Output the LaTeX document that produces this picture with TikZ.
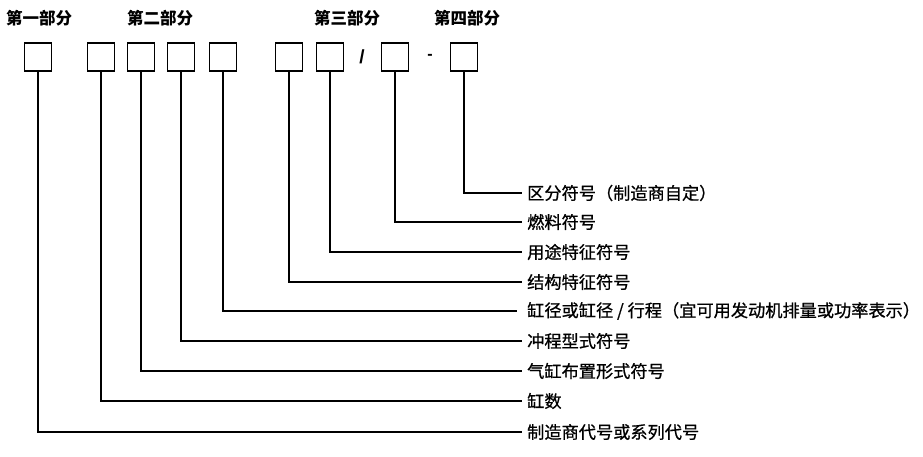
\documentclass[tikz,border=0pt]{standalone}
\usepackage{fontspec}
\setmainfont{Liberation Sans}
\newfontfamily\cjk{Noto Sans CJK SC}
\newfontfamily\cjkfb[FakeBold=0.8]{Noto Sans CJK SC}
\begin{document}
\begin{tikzpicture}[x=1pt,y=-1pt,
  codebox/.style={draw,line width=1.3pt,minimum width=27pt,minimum height=28pt,inner sep=0pt},
  head/.style={font=\cjk\bfseries\fontsize{16.5}{16.5}\selectfont,inner sep=0pt},
  lab/.style={anchor=west,font=\cjkfb\fontsize{17.2}{17.2}\selectfont,inner xsep=5pt,inner ysep=0pt},
  conn/.style={line width=1.3pt}]
\useasboundingbox (0,0) rectangle (923,456);
% headers
\node[head] (h1) at (39,18) {第一部分};
\node[head] (h2) at (160,18) {第二部分};
\node[head] (h3) at (347,18) {第三部分};
\node[head] (h4) at (467,18) {第四部分};
% boxes
\node[codebox] (b1) at (38,57) {};
\node[codebox] (b2) at (101,57) {};
\node[codebox] (b3) at (141,57) {};
\node[codebox] (b4) at (181,57) {};
\node[codebox] (b5) at (223,57) {};
\node[codebox] (b6) at (289,57) {};
\node[codebox] (b7) at (330,57) {};
\node[codebox] (b8) at (395,57) {};
\node[codebox] (b9) at (464,57) {};
\node[font=\bfseries\fontsize{19}{19}\selectfont,inner sep=0pt] (sl) at (362,57) {/};
\node[font=\bfseries\fontsize{16}{16}\selectfont,inner sep=0pt] (da) at (430,57) {-};
% labels
\node[lab] (l9) at (522,193) {区分符号（制造商自定）};
\node[lab] (l8) at (522,222) {燃料符号};
\node[lab] (l7) at (522,252) {用途特征符号};
\node[lab] (l6) at (522,282) {结构特征符号};
\node[lab,inner xsep=10pt] (l5) at (517,311) {缸径或缸径 / 行程（宜可用发动机排量或功率表示）};
\node[lab] (l4) at (522,341) {冲程型式符号};
\node[lab] (l3) at (522,371) {气缸布置形式符号};
\node[lab] (l2) at (522,401) {缸数};
\node[lab] (l1) at (522,432) {制造商代号或系列代号};
% connectors
\foreach \i in {1,...,9} {\draw[conn] (b\i.south) |- (l\i.west);}
\end{tikzpicture}
\end{document}
